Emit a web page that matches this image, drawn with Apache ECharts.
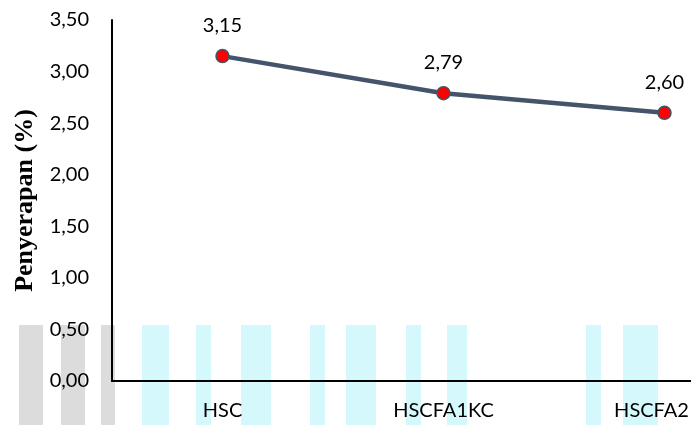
<!DOCTYPE html>
<html lang="en">
<head>
  <meta charset="UTF-8">
  <title>Penyerapan</title>
  <style>
    html, body { margin: 0; padding: 0; background: #fff; overflow: hidden; }
    /* kanvas sengaja lebih lebar: kategori ketiga jatuh di dekat tepi kanan */
    #echart { width: 775px; height: 425px; }
  </style>
</head>
<body>
  <div id="echart"></div>
  <script src="https://cdn.jsdelivr.net/npm/echarts@6/dist/echarts.min.js"></script>
  <script>
    // kategori sampel
    var categories = ['HSC', 'HSCFA1KC', 'HSCFA2'];
    // nilai penyerapan (%)
    var values = [3.15, 2.79, 2.60];
    // label sumbu y
    var yTicks = [0, 0.5, 1, 1.5, 2, 2.5, 3, 3.5];

    function koma(v) {
      return v.toFixed(2).replace('.', ',');
    }

    // garis-garis watermark di bawah (abu-abu dan biru muda)
    var stripes = [
      [19, 24, '#dcdcdc'], [61, 24, '#dcdcdc'], [101, 14, '#dcdcdc'],
      [142, 27, '#d4f8fc'], [196, 15, '#d4f8fc'], [241, 30, '#d4f8fc'],
      [310, 15, '#d4f8fc'], [346, 30, '#d4f8fc'], [406, 15, '#d4f8fc'],
      [447, 20, '#d4f8fc'], [586, 15, '#d4f8fc'], [623, 35, '#d4f8fc']
    ];

    var graphics = stripes.map(function (s) {
      return {
        type: 'rect',
        silent: true,
        z: -10,
        shape: { x: s[0], y: 325, width: s[1], height: 100 },
        style: { fill: s[2] }
      };
    });

    // label kategori terakhir digeser ke kiri supaya muat
    var xData = categories.map(function (c, i) {
      if (i === categories.length - 1) {
        return { value: c, textStyle: { padding: [0, 26, 0, 0] } };
      }
      return c;
    });

    var option = {
      animation: false,
      backgroundColor: '#fff',
      graphic: graphics,
      grid: {
        left: 112,
        top: 20,
        right: 0,
        bottom: 44
      },
      xAxis: {
        type: 'category',
        data: xData,
        boundaryGap: true,
        axisLine: { lineStyle: { color: '#000', width: 2 } },
        axisTick: { show: false },
        axisLabel: {
          color: '#000',
          fontFamily: 'Lato',
          fontSize: 20,
          margin: 20
        },
        splitLine: { show: false }
      },
      yAxis: {
        type: 'value',
        min: yTicks[0],
        max: yTicks[yTicks.length - 1],
        interval: 0.5,
        name: 'Penyerapan (%)',
        nameLocation: 'middle',
        nameGap: 74,
        nameTextStyle: {
          color: '#000',
          fontFamily: 'Liberation Serif',
          fontWeight: 'bold',
          fontSize: 26
        },
        axisLine: { show: true, lineStyle: { color: '#000', width: 2 } },
        axisTick: { show: false },
        splitLine: { show: false },
        axisLabel: {
          color: '#000',
          fontFamily: 'Lato',
          fontSize: 20,
          margin: 23,
          formatter: function (v) { return koma(v); }
        }
      },
      series: [{
        type: 'line',
        data: values,
        symbol: 'circle',
        symbolSize: 13,
        lineStyle: { color: '#44546a', width: 4.5 },
        itemStyle: { color: '#ff0000', borderColor: '#44546a', borderWidth: 1.5 },
        label: {
          show: true,
          position: 'top',
          distance: 13,
          color: '#000',
          fontFamily: 'Lato',
          fontSize: 20,
          formatter: function (p) { return koma(p.value); }
        }
      }]
    };

    var myChart = echarts.init(document.getElementById('echart'));
    myChart.setOption(option);
  </script>
</body>
</html>
